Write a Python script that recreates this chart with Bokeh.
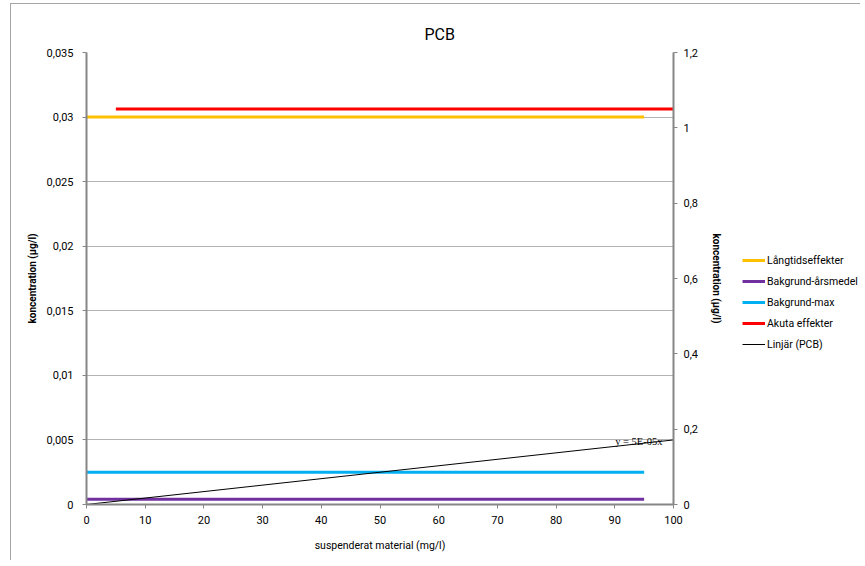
from bokeh.plotting import figure
from bokeh.layouts import row
from bokeh.models import (Range1d, LinearAxis, FixedTicker, CustomJSTickFormatter,
                          Legend, LegendItem, Title)
from bokeh.embed import file_html
from bokeh.resources import INLINE

# ---- data ----
series_names = ["Långtidseffekter", "Bakgrund-årsmedel", "Bakgrund-max", "Akuta effekter", "Linjär (PCB)"]
series_colors = ["#FFC000", "#7030A0", "#00B0F0", "#FF0000", "#000000"]
series_widths = [3, 3, 3, 3, 1]
langtid_x = [0, 95]
langtid_y = [0.03, 0.03]
arsmedel_x = [0, 95]
arsmedel_y = [0.0004, 0.0004]
bakmax_x = [0, 95]
bakmax_y = [0.0025, 0.0025]
akuta_x = [5, 100]
akuta_y = [1.05, 1.05]          # plotted on the secondary axis
trend_x = [0, 100]
trend_slope = 5e-05
trend_y = [trend_slope * v for v in trend_x]
trend_label = "y = 5E-05x"

x_ticks = [0, 10, 20, 30, 40, 50, 60, 70, 80, 90, 100]
left_ticks = [0, 0.005, 0.01, 0.015, 0.02, 0.025, 0.03, 0.035]
right_ticks = [0, 0.2, 0.4, 0.6, 0.8, 1.0, 1.2]

FONT = "Roboto"
AXIS_COL = "#868686"
GRID_COL = "#b3b3b3"
H = 560

fmt = CustomJSTickFormatter(code="return (+tick.toFixed(4)).toString().replace('.', ',');")

p = figure(output_backend="svg", toolbar_location=None,
           x_range=Range1d(0, 100), y_range=Range1d(0, 0.035),
           frame_width=587, frame_height=452, height=H, width=728,
           min_border_left=86, min_border_top=52, min_border_right=55, min_border_bottom=56)
p.outline_line_color = None
p.background_fill_color = "white"
p.border_fill_alpha = 0

p.title = Title(text="PCB", align="left", offset=338, text_font_size="16px",
                text_font_style="normal", text_font=FONT, text_color="#000000", standoff=18)

p.extra_y_ranges = {"right": Range1d(0, 1.2)}

def style_axis(ax, ticks):
    ax.ticker = FixedTicker(ticks=ticks)
    ax.formatter = fmt
    ax.axis_line_color = AXIS_COL
    ax.axis_line_width = 2
    ax.major_tick_line_color = AXIS_COL
    ax.major_tick_out = 4
    ax.major_tick_in = 0
    ax.minor_tick_line_color = None
    ax.major_label_text_font = FONT
    ax.major_label_text_font_size = "11px"
    ax.major_label_text_color = "#000000"
    ax.axis_label_text_font = FONT
    ax.axis_label_text_color = "#000000"

style_axis(p.xaxis[0], x_ticks)
p.xaxis.axis_label = "suspenderat material (mg/l)"
p.xaxis.axis_label_text_font_size = "10.5px"
p.xaxis.axis_label_text_font_style = "normal"
p.xaxis.major_label_standoff = 7
p.xaxis.axis_label_standoff = 12

style_axis(p.yaxis[0], left_ticks)
p.yaxis.axis_label = "koncentration (µg/l)"
p.yaxis.axis_label_text_font_size = "10px"
p.yaxis.axis_label_text_font_style = "bold"
p.yaxis.major_label_standoff = 9
p.yaxis.axis_label_standoff = 6

ry = LinearAxis(y_range_name="right", axis_label="koncentration (µg/l)")
style_axis(ry, right_ticks)
ry.axis_label_text_font_size = "10px"
ry.axis_label_text_font_style = "bold"
ry.major_label_standoff = 6
ry.axis_label_standoff = 10
p.add_layout(ry, "right")

p.xgrid.grid_line_color = None
p.ygrid.grid_line_color = GRID_COL
p.ygrid.grid_line_width = 1

p.line(langtid_x, langtid_y, line_color=series_colors[0], line_width=series_widths[0])
p.line(arsmedel_x, arsmedel_y, line_color=series_colors[1], line_width=series_widths[1])
p.line(bakmax_x, bakmax_y, line_color=series_colors[2], line_width=series_widths[2])
p.line(akuta_x, akuta_y, line_color=series_colors[3], line_width=series_widths[3], y_range_name="right")
p.line(trend_x, trend_y, line_color=series_colors[4], line_width=series_widths[4])

p.text(x=[trend_x[-1]], y=[trend_y[-1]], text=[trend_label], anchor="right",
       x_offset=-11, y_offset=2, text_baseline="middle", text_align="right",
       text_font_size="10.5px", text_font=FONT, text_color="#000000")

# ---- legend panel (separate figure to the right, frame aligned with main) ----
lf = figure(output_backend="svg", toolbar_location=None, width=132, height=H,
            x_range=Range1d(0, 1), y_range=Range1d(0, 1),
            min_border=0, min_border_left=0, min_border_right=0,
            min_border_top=0, min_border_bottom=0)
lf.axis.visible = False
lf.grid.visible = False
lf.outline_line_color = None
lf.background_fill_alpha = 0
lf.border_fill_alpha = 0
items = []
for n, c, w in zip(series_names, series_colors, series_widths):
    # off-range proxy renderer, only used for the legend swatch
    r = lf.line(x=[-5, -4], y=[-5, -5], line_color=c, line_width=w)
    items.append(LegendItem(label=n, renderers=[r]))
legend = Legend(items=items, location=(14, 153), orientation="vertical",
                glyph_width=23, glyph_height=14, label_height=14, spacing=7,
                label_standoff=2, padding=0, margin=0,
                border_line_color=None, background_fill_alpha=0,
                label_text_font=FONT, label_text_font_size="10.5px", label_text_color="#000000")
lf.add_layout(legend)

lay = row(p, lf, spacing=0)
lay.styles = {
    "background-image": "linear-gradient(#a6a6a6, #a6a6a6), linear-gradient(#a6a6a6, #a6a6a6)",
    "background-size": "1px 100%, 100% 1px",
    "background-position": "10px 3px, 10px 3px",
    "background-repeat": "no-repeat",
}

open("out.html", "w").write(file_html(lay, INLINE))
